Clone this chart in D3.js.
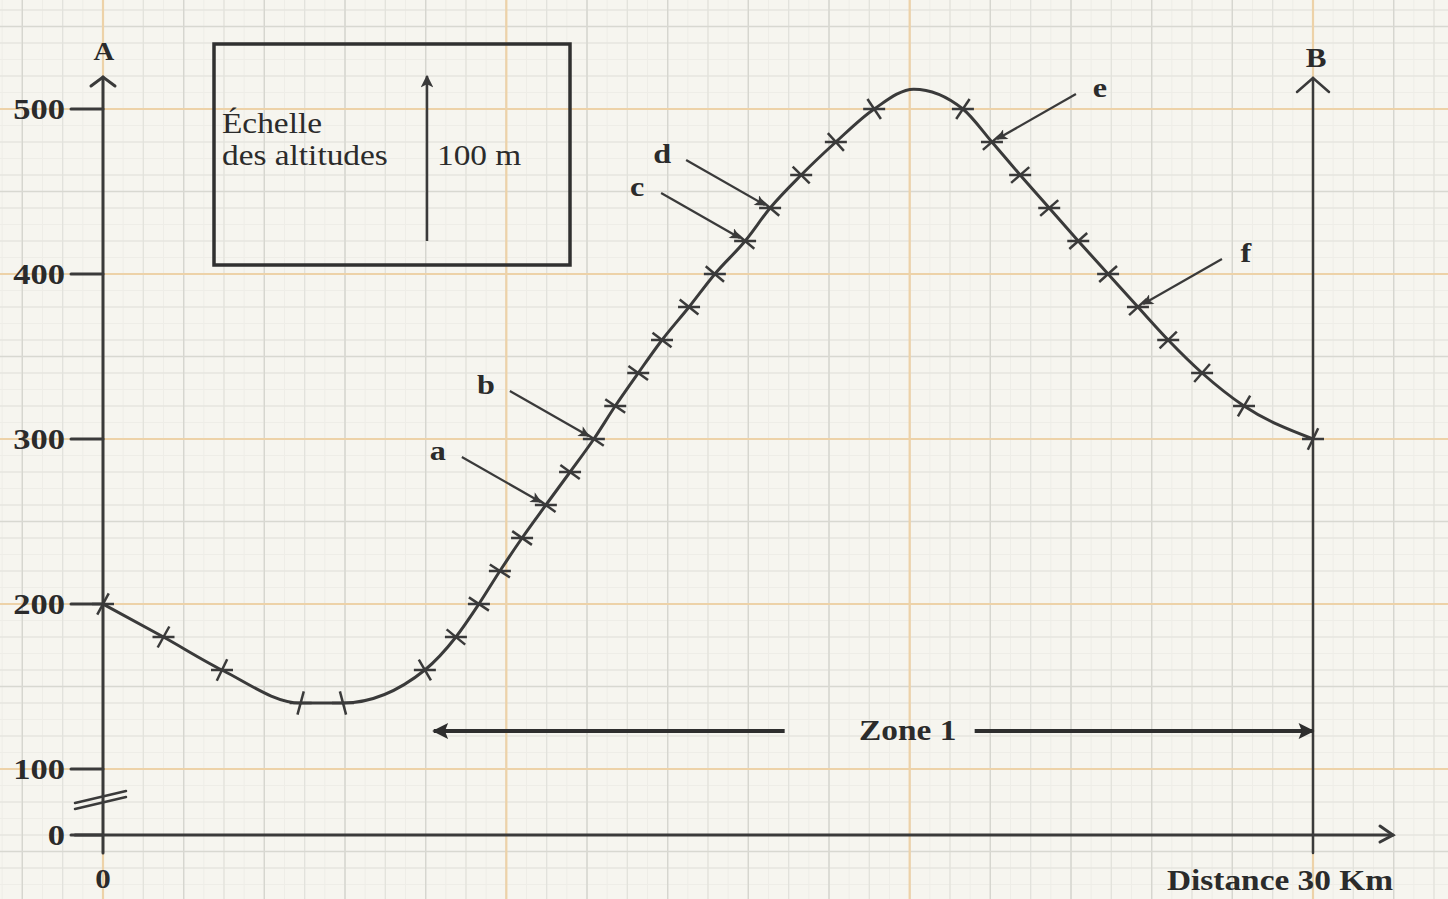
<!DOCTYPE html>
<html>
<head>
<meta charset="utf-8">
<script src="https://cdn.jsdelivr.net/npm/d3@7"></script>
<style>
  html, body { margin: 0; padding: 0; background: #f6f5ef; }
  svg { display: block; }
</style>
</head>
<body>
<div id="chart"></div>
<script>
// profile: distance (km) and altitude (m)
var distKm = [0, 1.5, 2.95, 4.9, 5.95, 7.98, 8.75, 9.32, 9.84, 10.39, 10.98, 11.58, 12.17, 12.7, 13.27,
    13.86, 14.53, 15.17, 15.92, 16.54, 17.31, 18.17, 19.12, 20.1, 21.32, 22.04, 22.74, 23.46, 24.18,
    24.92, 25.66, 26.41, 27.25, 28.29, 30];
var altitude = [200, 180, 160, 140, 140, 160, 180, 200, 220, 240, 260, 280, 300, 320, 340,
    360, 380, 400, 420, 440, 460, 480, 500, 512, 500, 480, 460, 440, 420,
    400, 380, 360, 340, 320, 300];
var peakAltitude = 512; // summit, no cross on it

var altTicks = [0, 100, 200, 300, 400, 500];
var distTicks = [0];

// arrows a..f point at crosses of the profile
var callouts = [
    {label: "a", km: 10.98, alt: 260, side: "left"},
    {label: "b", km: 12.17, alt: 300, side: "left"},
    {label: "c", km: 15.92, alt: 420, side: "left"},
    {label: "d", km: 16.54, alt: 440, side: "left"},
    {label: "e", km: 22.04, alt: 480, side: "right"},
    {label: "f", km: 25.66, alt: 380, side: "right"}
];
var zone = {label: "Zone 1", from: 8.2, to: 30, alt: 123};

var width = 1448, height = 899,
    ink = "#3a3a3a",
    serif = "'Liberation Serif', 'Times New Roman', serif",
    stretch = 1.15;

var x = d3.scaleLinear().domain([0, 30]).range([103, 1313]);
var y = d3.scaleLinear().domain([0, 100, 500]).range([835, 769, 109]); // broken axis below 100
var gy = d3.scaleLinear().domain([100, 500]).range([769, 109]);        // paper grid

var svg = d3.select("#chart").append("svg")
    .attr("width", width)
    .attr("height", height);

var defs = svg.append("defs");
defs.append("marker")
    .attr("id", "tri")
    .attr("viewBox", "0 0 10 10")
    .attr("refX", 9).attr("refY", 5)
    .attr("markerWidth", 6).attr("markerHeight", 5)
    .attr("markerUnits", "strokeWidth")
    .attr("orient", "auto")
    .append("path").attr("d", "M0,0L10,5L0,10L2.5,5Z").attr("fill", ink);
defs.append("marker")
    .attr("id", "triBig")
    .attr("viewBox", "0 0 10 10")
    .attr("refX", 9).attr("refY", 5)
    .attr("markerWidth", 5.5).attr("markerHeight", 4)
    .attr("markerUnits", "strokeWidth")
    .attr("orient", "auto")
    .append("path").attr("d", "M0,0L10,5L0,10L2,5Z").attr("fill", "#2e2e2e");

// graph paper
var paper = svg.append("g");
paper.append("rect").attr("width", width).attr("height", height).attr("fill", "#f6f5ef");

function steps(lo, hi, step) {
    return d3.range(Math.ceil(lo / step), Math.floor(hi / step) + 1).map(function (k) { return k * step; });
}
function vlines(step, color, w) {
    paper.append("g").selectAll("line")
        .data(steps(-3, 34, step))
        .enter().append("line")
        .attr("x1", function (d) { return x(d); })
        .attr("x2", function (d) { return x(d); })
        .attr("y1", 0).attr("y2", height)
        .attr("stroke", color).attr("stroke-width", w);
}
function hlines(step, color, w) {
    paper.append("g").selectAll("line")
        .data(steps(0, 580, step))
        .enter().append("line")
        .attr("x1", 0).attr("x2", width)
        .attr("y1", function (d) { return gy(d); })
        .attr("y2", function (d) { return gy(d); })
        .attr("stroke", color).attr("stroke-width", w);
}
vlines(0.5, "#eeede7", 1);
hlines(10, "#eeede7", 1);
vlines(1, "#e2e2db", 1.2);
hlines(20, "#e2e2db", 1.2);
vlines(2, "#d6d6cf", 1.3);
hlines(50, "#d8d8d1", 1.3);
vlines(10, "#edd2a8", 2.2);
hlines(100, "#edd2a8", 2.2);

function stext(parent, px, py, str, opts) {
    var g = parent.append("g")
        .attr("transform", "translate(" + px + "," + py + ") scale(" + stretch + ",1)");
    return g.append("text")
        .attr("x", 0).attr("y", 0)
        .attr("text-anchor", opts.anchor || "start")
        .style("font-family", serif)
        .style("font-size", opts.size + "px")
        .style("font-weight", opts.bold ? "bold" : "normal")
        .attr("fill", opts.color || "#2b2b2b")
        .text(str);
}

// axes
var axes = svg.append("g").attr("stroke", ink).attr("fill", "none").attr("stroke-linecap", "round");
axes.append("line").attr("x1", x(0)).attr("x2", x(0)).attr("y1", 853).attr("y2", 77).attr("stroke-width", 3);
axes.append("path").attr("d", "M" + (x(0) - 12) + ",86L" + x(0) + ",77L" + (x(0) + 12) + ",86").attr("stroke-width", 3);
axes.append("line").attr("x1", 75).attr("x2", 1393).attr("y1", y(0)).attr("y2", y(0)).attr("stroke-width", 3);
axes.append("path").attr("d", "M1380,826L1393," + y(0) + "L1380,842").attr("stroke-width", 3);
axes.append("line").attr("x1", x(30)).attr("x2", x(30)).attr("y1", 853).attr("y2", 78).attr("stroke-width", 2.5);
axes.append("path").attr("d", "M" + (x(30) - 16) + ",92L" + x(30) + ",78L" + (x(30) + 16) + ",92").attr("stroke-width", 2.5);

// break marks on altitude axis
axes.selectAll(".brk").data([0, 6]).enter().append("line")
    .attr("x1", 75).attr("x2", 126)
    .attr("y1", function (d) { return 803 + d; })
    .attr("y2", function (d) { return 791 + d; })
    .attr("stroke-width", 2.5);

axes.selectAll(".ytick").data(altTicks).enter().append("line")
    .attr("x1", 71).attr("x2", x(0))
    .attr("y1", function (d) { return y(d); })
    .attr("y2", function (d) { return y(d); })
    .attr("stroke-width", 3);

altTicks.forEach(function (d) {
    stext(svg, 65, y(d) + 10, d, {size: 30, bold: true, anchor: "end"});
});
distTicks.forEach(function (d) {
    stext(svg, x(d), 888, d, {size: 27, bold: true, anchor: "middle"});
});
stext(svg, 1393, 890, "Distance 30 Km", {size: 29, bold: true, anchor: "end"});
stext(svg, x(0) + 1, 60, "A", {size: 25, bold: true, anchor: "middle"});
stext(svg, x(30) + 3, 67, "B", {size: 27, bold: true, anchor: "middle"});

// scale box
var box = svg.append("g");
box.append("rect").attr("x", 214).attr("y", 44).attr("width", 356).attr("height", 221)
    .attr("fill", "none").attr("stroke", "#303030").attr("stroke-width", 3.5);
var unit = y(100) - y(200);
box.append("line").attr("x1", 427).attr("x2", 427).attr("y1", 241).attr("y2", 241 - unit)
    .attr("stroke", ink).attr("stroke-width", 2.5).attr("marker-end", "url(#tri)");
stext(box, 222, 133, "Échelle", {size: 29});
stext(box, 222, 165, "des altitudes", {size: 29});
stext(box, 437, 165, "100 m", {size: 29});

// zone 1 double arrow
var zg = svg.append("g");
var zy = y(zone.alt), zmid = x(20);
zg.append("line").attr("x1", zmid - 125).attr("x2", x(zone.from)).attr("y1", zy).attr("y2", zy)
    .attr("stroke", "#2e2e2e").attr("stroke-width", 4).attr("marker-end", "url(#triBig)");
zg.append("line").attr("x1", zmid + 65).attr("x2", x(zone.to)).attr("y1", zy).attr("y2", zy)
    .attr("stroke", "#2e2e2e").attr("stroke-width", 4).attr("marker-end", "url(#triBig)");
stext(zg, zmid - 2, zy + 9, zone.label, {size: 29, bold: true, anchor: "middle"});

// profile curve
var pts = distKm.map(function (d, i) { return [x(d), y(altitude[i])]; });
svg.append("path")
    .datum(pts)
    .attr("d", d3.line().curve(d3.curveMonotoneX))
    .attr("fill", "none")
    .attr("stroke", ink)
    .attr("stroke-width", 3);

// crosses where the profile meets the contour lines
var crosses = svg.append("g").attr("stroke", ink).attr("stroke-width", 2.5);
pts.forEach(function (p, i) {
    if (altitude[i] === peakAltitude) return;
    var a = pts[Math.max(0, i - 1)], b = pts[Math.min(pts.length - 1, i + 1)];
    var tx = b[0] - a[0], ty = b[1] - a[1], len = Math.sqrt(tx * tx + ty * ty);
    var nx = -ty / len, ny = tx / len, h = 12;
    crosses.append("line")
        .attr("x1", p[0] - nx * h).attr("y1", p[1] - ny * h)
        .attr("x2", p[0] + nx * h).attr("y2", p[1] + ny * h);
    crosses.append("line")
        .attr("x1", p[0] - 11).attr("y1", p[1])
        .attr("x2", p[0] + 11).attr("y2", p[1]);
});

// callouts a..f
var cg = svg.append("g");
callouts.forEach(function (c) {
    var tx = x(c.km), ty = y(c.alt);
    var s = c.side === "left" ? -1 : 1;
    var sx = tx + s * 84, sy = ty - 48;
    var dx = tx - sx, dy = ty - sy, len = Math.sqrt(dx * dx + dy * dy);
    cg.append("line")
        .attr("x1", sx).attr("y1", sy)
        .attr("x2", tx - dx / len * 6).attr("y2", ty - dy / len * 6)
        .attr("stroke", ink).attr("stroke-width", 2.2)
        .attr("marker-end", "url(#tri)");
    stext(cg, sx + s * 24, sy + 3, c.label, {size: 28, bold: true, anchor: "middle"});
});
</script>
</body>
</html>
